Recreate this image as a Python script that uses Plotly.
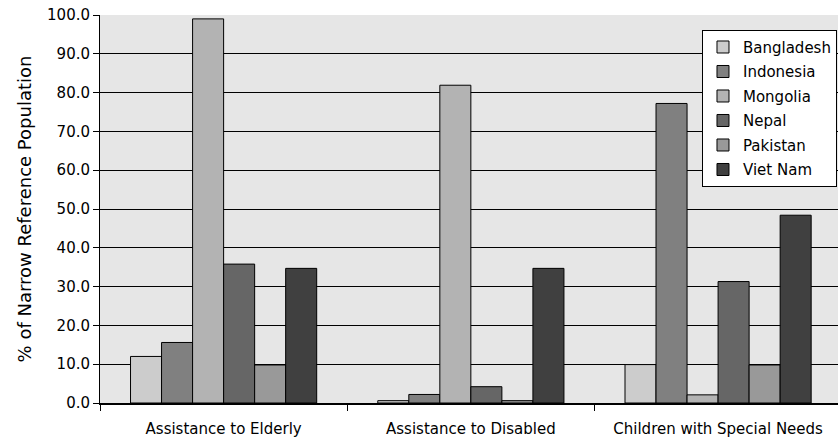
import plotly.graph_objects as go

categories = ["Assistance to Elderly", "Assistance to Disabled", "Children with Special Needs"]
countries = ["Bangladesh", "Indonesia", "Mongolia", "Nepal", "Pakistan", "Viet Nam"]
bangladesh = [12.0, 0.6, 9.9]
indonesia = [15.6, 2.2, 77.2]
mongolia = [99.0, 81.9, 2.1]
nepal = [35.8, 4.2, 31.3]
pakistan = [9.8, 0.6, 9.8]
viet_nam = [34.7, 34.7, 48.4]
y_ticks = [0, 10, 20, 30, 40, 50, 60, 70, 80, 90, 100]

series = [bangladesh, indonesia, mongolia, nepal, pakistan, viet_nam]
colors = ["#cccccc", "#808080", "#b3b3b3", "#666666", "#999999", "#404040"]

fig = go.Figure()
for name, vals, col in zip(countries, series, colors):
    fig.add_trace(go.Bar(
        x=categories, y=vals, name=name, legendgroup=name,
        marker=dict(color=col, line=dict(color="#000000", width=1)),
    ))

font = "DejaVu Sans, sans-serif"
fig.update_layout(
    width=838, height=441,
    margin=dict(l=100, r=0, t=15, b=38),
    paper_bgcolor="#ffffff",
    plot_bgcolor="#e6e6e6",
    barmode="group", bargap=0.247, bargroupgap=0,
    font=dict(family=font, size=15, color="#000000"),
    legend=dict(
        x=0.8157, y=0.962, xanchor="left", yanchor="top",
        bgcolor="#ffffff", bordercolor="#000000", borderwidth=1,
        font=dict(size=15), tracegroupgap=2, itemwidth=30,
    ),
    xaxis=dict(
        range=[-0.5, 2.485], tickson="boundaries", ticks="outside",
        ticklen=6, tickcolor="#000000", showgrid=False,
        showline=True, linecolor="#000000", linewidth=2,
        tickfont=dict(size=15), ticklabelstandoff=11,
    ),
    yaxis=dict(
        range=[0, 100], tickvals=y_ticks, tickformat=".1f",
        ticks="outside", ticklen=6, tickcolor="#000000",
        showgrid=True, gridcolor="#000000", gridwidth=1,
        showline=True, linecolor="#000000", linewidth=1,
        zeroline=False,
        title=dict(text="% of Narrow Reference Population", font=dict(size=18), standoff=10),
        tickfont=dict(size=15),
    ),
)

fig.write_html("out.html")
